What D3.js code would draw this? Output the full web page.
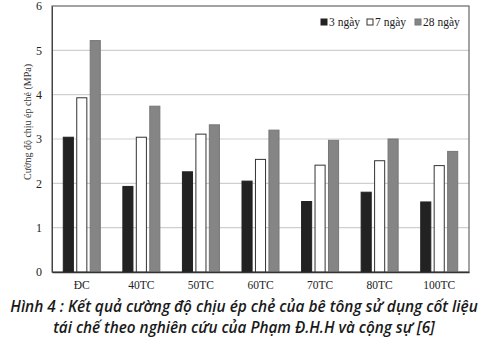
<!DOCTYPE html>
<html>
<head>
<meta charset="utf-8">
<style>
  body { margin: 0; background: #fff; }
  .caption { font-family: "Open Sans", "Noto Sans", sans-serif; font-style: italic; font-weight: 600; }
</style>
</head>
<body>
<div class="chart"></div>
<script src="https://d3js.org/d3.v7.min.js"></script>
<script>
  // mẫu bê tông
  const categories = ['ĐC', '40TC', '50TC', '60TC', '70TC', '80TC', '100TC'];
  const seriesNames = ['3 ngày', '7 ngày', '28 ngày'];
  const day3 = [3.04, 1.93, 2.26, 2.05, 1.59, 1.80, 1.58];
  const day7 = [3.93, 3.04, 3.11, 2.54, 2.41, 2.51, 2.40];
  const day28 = [5.22, 3.74, 3.32, 3.20, 2.97, 3.00, 2.72];
  const yTicks = [0, 1, 2, 3, 4, 5, 6];
  const yLabel = 'Cường độ chịu ép chẻ (MPa)';
  const captionLines = [
    'Hình 4 : Kết quả cường độ chịu ép chẻ của bê tông sử dụng cốt liệu',
    'tái chế theo nghiên cứu của Phạm Đ.H.H và cộng sự [6]'
  ];

  const width = 488, height = 345;
  const plot = { left: 52, right: 469, top: 6, bottom: 272 };
  const fills = ['#222', '#fff', '#858585'];
  const strokes = ['#222', '#333', '#777'];

  const svg = d3.select('.chart').append('svg')
    .attr('width', width)
    .attr('height', height);

  const x = d3.scaleBand()
    .domain(categories)
    .range([plot.left, plot.right]);

  const inner = d3.scaleBand()
    .domain(seriesNames)
    .range([-18.5, 18.5])
    .paddingInner(0.25);

  const y = d3.scaleLinear()
    .domain([0, 6])
    .range([plot.bottom, plot.top]);

  // grid
  svg.append('g')
    .selectAll('line')
    .data(yTicks.filter(d => d > 0 && d < 6))
    .join('line')
    .attr('x1', plot.left).attr('x2', plot.right)
    .attr('y1', d => y(d)).attr('y2', d => y(d))
    .attr('stroke', '#cfcfcf')
    .attr('stroke-width', 1.2);

  // plot frame
  svg.append('rect')
    .attr('x', plot.left).attr('y', plot.top)
    .attr('width', plot.right - plot.left)
    .attr('height', plot.bottom - plot.top)
    .attr('fill', 'none')
    .attr('stroke', '#666')
    .attr('stroke-width', 1.2);

  const rows = categories.map((c, i) => ({ cat: c, vals: [day3[i], day7[i], day28[i]] }));

  const groups = svg.append('g')
    .selectAll('g')
    .data(rows)
    .join('g')
    .attr('transform', d => `translate(${x(d.cat) + x.bandwidth() / 2},0)`);

  groups.selectAll('rect')
    .data(d => d.vals.map((v, k) => ({ v, k })))
    .join('rect')
    .attr('x', d => inner(seriesNames[d.k]))
    .attr('y', d => y(d.v))
    .attr('width', inner.bandwidth())
    .attr('height', d => y(0) - y(d.v))
    .attr('fill', d => fills[d.k])
    .attr('stroke', d => strokes[d.k])
    .attr('stroke-width', 1);

  // axes
  const yAxis = d3.axisLeft(y).tickValues(yTicks).tickFormat(d3.format('d')).tickSize(0).tickPadding(10);
  svg.append('g')
    .attr('transform', `translate(${plot.left},0)`)
    .call(yAxis)
    .call(g => g.select('.domain').attr('stroke', '#444'))
    .selectAll('text')
    .attr('font-family', '"Liberation Serif", serif')
    .attr('font-size', 12)
    .attr('fill', '#222');

  const xAxis = d3.axisBottom(x).tickSize(0).tickPadding(9);
  svg.append('g')
    .attr('transform', `translate(0,${plot.bottom})`)
    .call(xAxis)
    .call(g => g.select('.domain').attr('stroke', '#333').attr('stroke-width', 1.3))
    .selectAll('text')
    .attr('font-family', '"Liberation Serif", serif')
    .attr('font-size', 11.5)
    .attr('fill', '#222');

  svg.append('text')
    .attr('transform', 'translate(31,122) rotate(-90)')
    .attr('text-anchor', 'middle')
    .attr('font-family', '"Liberation Serif", serif')
    .attr('font-size', 10)
    .attr('fill', '#333')
    .text(yLabel);

  // legend
  const legend = svg.append('g')
    .attr('transform', 'translate(321,23)');
  const legendX = [0, 46, 94];
  seriesNames.forEach((name, k) => {
    const lg = legend.append('g').attr('transform', `translate(${legendX[k]},0)`);
    lg.append('rect')
      .attr('x', 0).attr('y', -4)
      .attr('width', 6).attr('height', 6)
      .attr('fill', fills[k])
      .attr('stroke', strokes[k]);
    lg.append('text')
      .attr('x', 8).attr('y', 3)
      .attr('font-family', '"Liberation Serif", serif')
      .attr('font-size', 11.5)
      .attr('fill', '#222')
      .text(name);
  });

  // caption: narrow the text horizontally so each line fits its width
  const captionWidths = [468, 382];
  svg.append('g')
    .selectAll('text')
    .data(captionLines)
    .join('text')
    .attr('class', 'caption')
    .attr('text-anchor', 'middle')
    .attr('font-size', 16)
    .attr('fill', '#1a1a1a')
    .text(d => d)
    .each(function (d, i) {
      const w = this.getComputedTextLength();
      const s = Math.min(1, captionWidths[i] / w);
      d3.select(this).attr('transform', `translate(${width / 2},${312 + i * 21}) scale(${s},1)`);
    });
</script>
</body>
</html>
